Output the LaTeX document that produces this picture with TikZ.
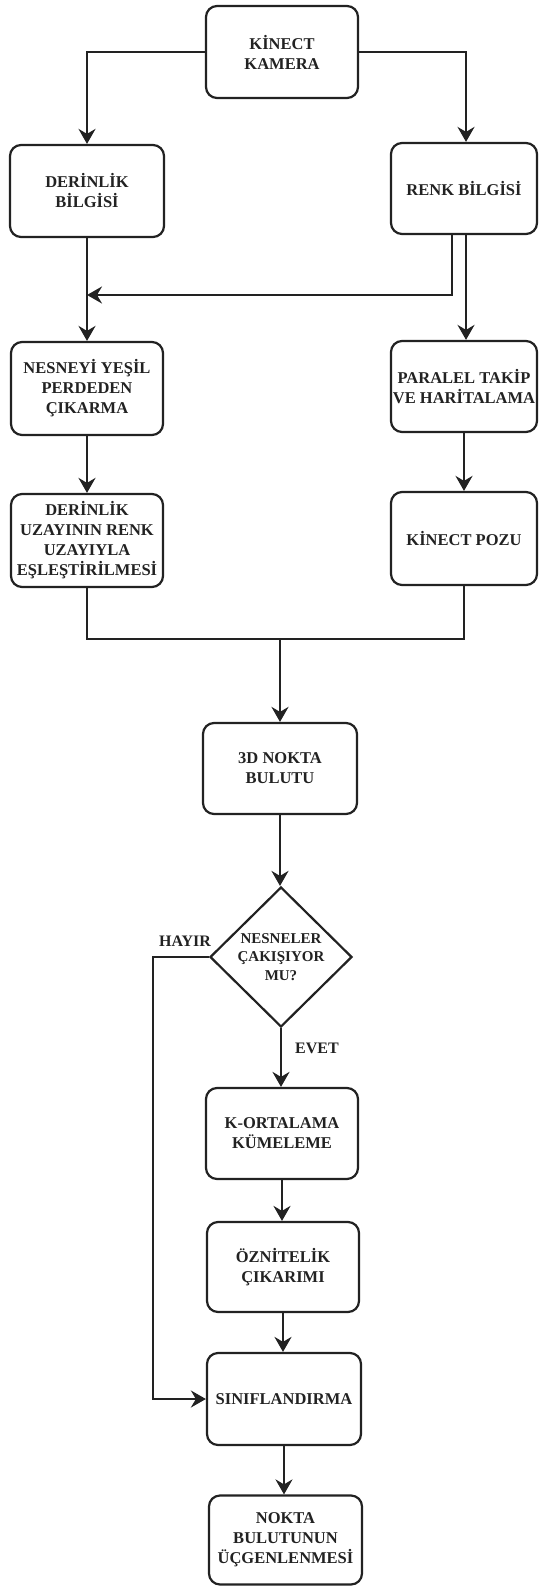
\documentclass[tikz,border=0pt]{standalone}
\usepackage{fontspec}
\setmainfont{Liberation Serif}
\usetikzlibrary{shapes.geometric,arrows.meta}
\definecolor{ink}{HTML}{222222}
\tikzset{
 box/.style={draw=ink, line width=2.2pt, rounded corners=11pt, align=center,
   font=\fontsize{16.5}{20}\selectfont\bfseries, text=ink, inner sep=0pt},
 dec/.style={draw=ink, diamond, line width=2.2pt, align=center,
   font=\fontsize{15}{18.5}\selectfont\bfseries, text=ink, inner sep=0pt,
   minimum width=142pt, minimum height=140pt},
 lbl/.style={font=\fontsize{16}{19}\selectfont\bfseries, text=ink, inner sep=0pt},
 arr/.style={draw=ink, line width=2.2pt, -{Stealth[length=15pt,width=17pt,inset=5pt]}},
 ln/.style={draw=ink, line width=2.2pt},
}
\begin{document}
\begin{tikzpicture}[x=1pt,y=-1pt]
\useasboundingbox (0,0) rectangle (538,1586);
\fill[white] (0,0) rectangle (538,1586);

\node[box, minimum width=152pt, minimum height=92pt] (kinect) at (282,52) {KİNECT\\KAMERA};
\node[box, minimum width=154pt, minimum height=92pt] (derin) at (87,191) {DERİNLİK\\BİLGİSİ};
\node[box, minimum width=146pt, minimum height=91pt] (renk) at (464,188.5) {RENK BİLGİSİ};
\node[box, minimum width=152pt, minimum height=93pt] (nesne) at (87,388.5) {NESNEYİ YEŞİL\\PERDEDEN\\ÇIKARMA};
\node[box, minimum width=152pt, minimum height=93pt] (uzay) at (87,540.5) {DERİNLİK\\UZAYININ RENK\\UZAYIYLA\\EŞLEŞTİRİLMESİ};
\node[box, minimum width=146pt, minimum height=91pt] (paralel) at (464,386.5) {PARALEL TAKİP\\VE HARİTALAMA};
\node[box, minimum width=146pt, minimum height=93pt] (poz) at (464,538.5) {KİNECT POZU};
\node[box, minimum width=154pt, minimum height=91pt] (nokta) at (280,768.5) {3D NOKTA\\BULUTU};
\node[dec] (soru) at (281,957) {NESNELER\\ÇAKIŞIYOR\\MU?};
\node[box, minimum width=152pt, minimum height=91pt] (kort) at (282,1133.5) {K-ORTALAMA\\KÜMELEME};
\node[box, minimum width=152pt, minimum height=90pt] (oz) at (283,1267) {ÖZNİTELİK\\ÇIKARIMI};
\node[box, minimum width=154pt, minimum height=92pt] (sinif) at (284,1399) {SINIFLANDIRMA};
\node[box, minimum width=153pt, minimum height=89pt] (ucgen) at (285.5,1540) {NOKTA\\BULUTUNUN\\ÜÇGENLENMESİ};

\node[lbl] (hayir) at (185,941) {HAYIR};
\node[lbl] (evet) at (317,1048) {EVET};

\coordinate (r1) at ([xshift=-12pt]renk.south);
\coordinate (j1) at (87,295);
\coordinate (j2) at (280,639);
\coordinate (h1) at (153,957);

\draw[arr] (kinect.west) -| (derin.north);
\draw[arr] (kinect.east) -| ([xshift=2pt]renk.north);
\draw[arr] (r1) |- (j1);
\draw[arr] ([xshift=2pt]renk.south) -- ([xshift=2pt]paralel.north);
\draw[arr] (derin.south) -- (nesne.north);
\draw[arr] (nesne.south) -- (uzay.north);
\draw[arr] (paralel.south) -- (poz.north);
\draw[ln] (uzay.south) |- (j2) -| (poz.south);
\draw[arr] (j2) -- (nokta.north);
\draw[arr] (nokta.south) -- (nokta.south |- soru.north);
\draw[arr] (soru.south) -- (soru.south |- kort.north);
\draw[arr] (kort.south) -- (kort.south |- oz.north);
\draw[arr] (oz.south) -- (oz.south |- sinif.north);
\draw[arr] (sinif.south) -- (sinif.south |- ucgen.north);
\draw[arr] (soru.west) -- (h1) |- (sinif.west);
\end{tikzpicture}
\end{document}
